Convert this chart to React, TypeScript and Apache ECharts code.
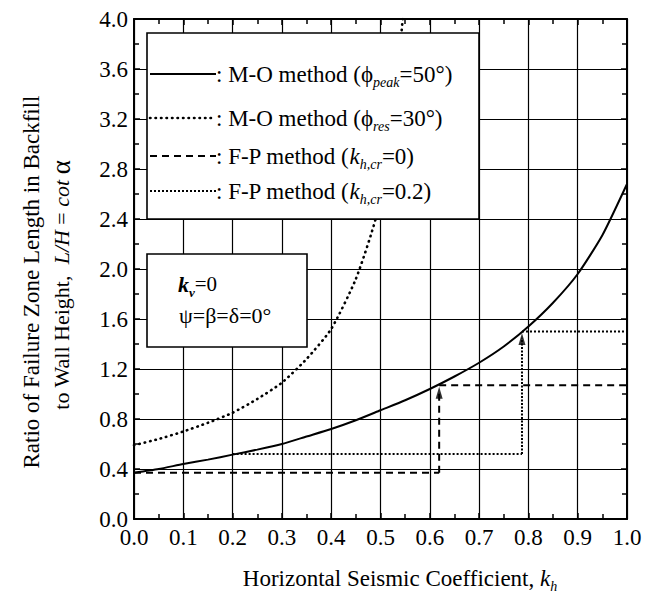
import React, { useEffect, useRef } from "react";
import * as echarts from "echarts";

// ---- data ----
const khPeak = [0, 0.05, 0.1, 0.15, 0.2, 0.25, 0.3, 0.35, 0.4, 0.45, 0.5, 0.55, 0.6, 0.65, 0.7, 0.75, 0.8, 0.85, 0.9, 0.95, 1.0];
const moPeak = [0.37, 0.4, 0.44, 0.475, 0.515, 0.555, 0.6, 0.66, 0.72, 0.79, 0.87, 0.95, 1.04, 1.14, 1.25, 1.38, 1.54, 1.73, 1.96, 2.27, 2.68];
const khRes = [0, 0.05, 0.1, 0.15, 0.2, 0.25, 0.3, 0.35, 0.4, 0.45, 0.49, 0.52, 0.545];
const moRes = [0.59, 0.64, 0.7, 0.77, 0.85, 0.96, 1.09, 1.28, 1.52, 1.92, 2.4, 3.0, 4.0];

const fp0Low = [[0, 0.37], [0.619, 0.37]];
const fp0Jump = [[0.619, 0.37], [0.619, 1.02]];
const fp0High = [[0.619, 1.07], [1.0, 1.07]];
const fp2Low = [[0.2, 0.52], [0.787, 0.52]];
const fp2Jump = [[0.787, 0.52], [0.787, 1.45]];
const fp2High = [[0.787, 1.5], [1.0, 1.5]];
const arrowHeads = [[0.619, 1.01], [0.787, 1.44]];

const xTicks = { min: 0, max: 1, interval: 0.1 };
const yTicks = { min: 0, max: 4, interval: 0.4 };

const FONT = "'Liberation Serif', 'Times New Roman', serif";

const legendRows = [
  { y: 74, dash: "solid", text: "{n|: M-O method (}{g|ϕ}{sub|peak}{n|=50°)}" },
  { y: 118, dash: "dot", text: "{n|: M-O method (}{g|ϕ}{sub|res}{n|=30°)}" },
  { y: 156, dash: "dash", text: "{n|: F-P method (}{i|k}{sub|h,cr}{n|=0)}" },
  { y: 191, dash: "dense", text: "{n|: F-P method (}{i|k}{sub|h,cr}{n|=0.2)}" },
];

const richBase = (size: number) => ({
  n: { fontFamily: FONT, fontSize: size, lineHeight: 30, color: "#000" },
  i: { fontFamily: FONT, fontSize: size, fontStyle: "italic", lineHeight: 30, color: "#000" },
  g: { fontFamily: FONT, fontSize: size, lineHeight: 30, color: "#000" },
  sub: { fontFamily: FONT, fontSize: Math.round(size * 0.62), fontStyle: "italic", verticalAlign: "bottom", color: "#000" },
  big: { fontFamily: FONT, fontSize: size + 5, lineHeight: 30, color: "#000" },
  kb: { fontFamily: FONT, fontSize: size + 1, fontStyle: "italic", fontWeight: "bold", lineHeight: 30, color: "#000" },
  subb: { fontFamily: FONT, fontSize: Math.round(size * 0.62), fontStyle: "italic", fontWeight: "bold", verticalAlign: "bottom", color: "#000" },
});

function dashStyle(kind: string): any {
  if (kind === "dash") return { lineDash: [7, 5], lineCap: "butt" };
  if (kind === "dot") return { lineDash: [0.5, 5], lineCap: "round", lineWidth: 2.6 };
  if (kind === "dense") return { lineDash: [2, 2], lineCap: "butt" };
  return {};
}

export default function App() {
  const ref = useRef<HTMLDivElement>(null);
  useEffect(() => {
    if (!ref.current) return;
    const chart = echarts.init(ref.current, undefined, { renderer: "svg" });
    const black = "#000";
    const axisCommon = {
      type: "value" as const,
      axisLine: { show: true, onZero: false, lineStyle: { color: black, width: 2 } },
      axisTick: { show: true, inside: true, length: 6, lineStyle: { color: black, width: 1.5 } },
      minorTick: { show: true, splitNumber: 2, length: 5, lineStyle: { color: black, width: 1.5 } },
    };
    const fmt = (v: number) => v.toFixed(1);
    const line = (data: any, type: any, extra: any = {}, smooth: any = false) => ({
      type: "line",
      data,
      symbol: "none",
      smooth,
      lineStyle: { color: black, width: 2, type, ...extra },
      z: 3,
    });

    const graphic: any[] = [];
    // legend box
    graphic.push({
      type: "rect",
      shape: { x: 147, y: 33, width: 332, height: 186 },
      style: { fill: "#fff", stroke: black, lineWidth: 1.6 },
      z: 100,
    });
    legendRows.forEach((r) => {
      const ds = dashStyle(r.dash);
      graphic.push({
        type: "line",
        shape: { x1: 150, y1: r.y, x2: 216, y2: r.y },
        style: { stroke: black, lineWidth: 2, ...ds },
        z: 101,
      });
      graphic.push({
        type: "text",
        x: 216,
        y: r.y,
        style: { text: r.text, rich: richBase(23), align: "left", verticalAlign: "middle" },
        z: 101,
      });
    });
    // kv box
    graphic.push({
      type: "rect",
      shape: { x: 147, y: 254, width: 160, height: 93 },
      style: { fill: "#fff", stroke: black, lineWidth: 1.6 },
      z: 100,
    });
    graphic.push({
      type: "text",
      x: 178,
      y: 284,
      style: { text: "{kb|k}{subb|v}{n|=0}", rich: richBase(21), align: "left", verticalAlign: "middle" },
      z: 101,
    });
    graphic.push({
      type: "text",
      x: 179,
      y: 315,
      style: { text: "ψ=β=δ=0°", font: `22px ${FONT}`, fill: black, align: "left", verticalAlign: "middle" },
      z: 101,
    });
    // y-axis title (two lines, rotated)
    graphic.push({
      type: "text",
      x: 31,
      y: 282,
      rotation: Math.PI / 2,
      style: { text: "Ratio of Failure Zone Length in Backfill", font: `23px ${FONT}`, fill: black, align: "center", verticalAlign: "middle" },
      z: 101,
    });
    graphic.push({
      type: "text",
      x: 61,
      y: 285,
      rotation: Math.PI / 2,
      style: { text: "{n|to Wall Height,  }{i|L/H}{n| = }{i|cot}{n| }{big|α}", rich: richBase(22), align: "center", verticalAlign: "middle" },
      z: 101,
    });
    // x-axis title
    graphic.push({
      type: "text",
      x: 400,
      y: 578,
      style: { text: "{n|Horizontal Seismic Coefficient, }{i|k}{sub|h}", rich: richBase(23), align: "center", verticalAlign: "middle" },
      z: 101,
    });

    chart.setOption({
      animation: false,
      backgroundColor: "#fff",
      grid: { left: 134, right: 19, top: 19, bottom: 75, containLabel: false },
      xAxis: [
        {
          ...axisCommon,
          ...xTicks,
          position: "bottom",
          axisLabel: { color: black, fontSize: 23, fontFamily: FONT, margin: 7, formatter: fmt },
          splitLine: { show: true, lineStyle: { color: black, width: 1.2 } },
        },
        {
          ...axisCommon,
          ...xTicks,
          position: "top",
          axisLabel: { show: false },
          splitLine: { show: false },
        },
      ],
      yAxis: [
        {
          ...axisCommon,
          ...yTicks,
          position: "left",
          axisLabel: { color: black, fontSize: 23, fontFamily: FONT, margin: 6, formatter: fmt },
          splitLine: { show: true, lineStyle: { color: black, width: 1.2 } },
        },
        {
          ...axisCommon,
          ...yTicks,
          position: "right",
          axisLabel: { show: false },
          splitLine: { show: false },
        },
      ],
      series: [
        { name: "M-O peak", ...line(khPeak.map((k, i) => [k, moPeak[i]]), "solid", {}, 0.2) },
        { name: "M-O res", ...line(khRes.map((k, i) => [k, moRes[i]]), [0.5, 5], { cap: "round", width: 2.6 }, 0.2) },
        { name: "F-P 0 low", ...line(fp0Low, [7, 5]) },
        { name: "F-P 0 jump", ...line(fp0Jump, [7, 5]) },
        { name: "F-P 0 high", ...line(fp0High, [7, 5]) },
        { name: "F-P 0.2 low", ...line(fp2Low, [2, 2]) },
        { name: "F-P 0.2 jump", ...line(fp2Jump, [2, 1.5]) },
        { name: "F-P 0.2 high", ...line(fp2High, [2, 2]) },
        {
          name: "arrows",
          type: "scatter",
          data: arrowHeads,
          symbol: "triangle",
          symbolSize: [7, 12],
          itemStyle: { color: black },
          z: 4,
        },
      ],
      graphic,
    });
    return () => chart.dispose();
  }, []);
  return <div ref={ref} style={{ position: "fixed", left: 0, top: 0, width: 646, height: 594, background: "#fff" }} />;
}
